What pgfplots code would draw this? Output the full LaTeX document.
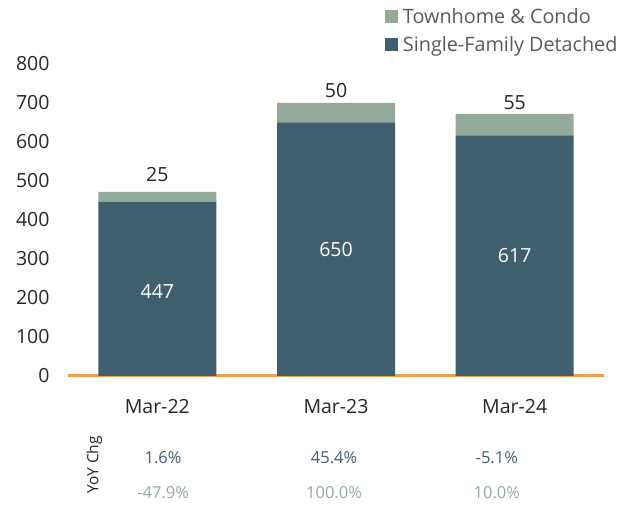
\documentclass[border=0pt]{standalone}
\usepackage{fontspec}
\setmainfont{Open Sans}
\usepackage{pgfplots}
\pgfplotsset{compat=1.18}
\definecolor{sfd}{HTML}{405F6E}
\definecolor{thc}{HTML}{93AA9B}
\definecolor{orng}{HTML}{F0A04B}
\definecolor{txt}{HTML}{262626}
\definecolor{legtxt}{HTML}{595959}
\begin{document}
\begin{tikzpicture}
\useasboundingbox (0,0) rectangle (619pt,510pt);
\begin{axis}[
  at={(68pt,134pt)}, anchor=south west,
  scale only axis, width=536pt, height=312pt,
  ybar stacked, bar width=118pt,
  xmin=-0.5, xmax=2.5, ymin=0, ymax=800,
  xtick={0,1,2}, xticklabels={Mar-22,Mar-23,Mar-24},
  ytick={0,100,...,800},
  axis x line*=bottom, axis y line*=left,
  x axis line style={orng, line width=3pt, -},
  y axis line style={draw=none},
  major tick length=0pt,
  tick label style={font=\fontsize{19.5}{22}\selectfont, text=txt},
  yticklabel style={xshift=-15pt},
  xticklabel style={yshift=-20pt},
  /pgf/number format/assume math mode=true,
  clip=false,
  reverse legend,
  legend style={at={(axis description cs:0.591,1.186)}, anchor=north west,
    draw=none, fill=none, inner xsep=0pt, inner ysep=0pt,
    font=\fontsize{19.8}{22}\selectfont, text=legtxt, row sep=8pt},
  legend cell align=left,
  legend image code/.code={\fill[#1] (0pt,-6.5pt) rectangle (13pt,6.5pt); \path (16pt,0pt);},
  after end axis/.append code={
    \node[white, font=\fontsize{19.5}{22}\selectfont] at ([yshift=-3pt]axis cs:0,223.5) {447};
    \node[white, font=\fontsize{19.5}{22}\selectfont] at (axis cs:1,325) {650};
    \node[white, font=\fontsize{19.5}{22}\selectfont] at (axis cs:2,308.5) {617};
  },
]
\addplot[fill=sfd, draw=none] coordinates {(0,447) (1,650) (2,617)};
\addlegendentry{Single-Family Detached}
\addplot[fill=thc, draw=none, point meta=explicit, nodes near coords,
  nodes near coords style={font=\fontsize{19.5}{22}\selectfont, text=txt, anchor=center, yshift=22pt}]
  coordinates {(0,25) [25] (1,50) [50] (2,55) [55]};
\addlegendentry{Townhome \& Condo}

\node[rotate=90, text=txt, font=\fontsize{15.5}{18}\selectfont] at ([yshift=-89pt]axis cs:-0.352,0) {YoY Chg};
\node[text=sfd, font=\fontsize{16.5}{19}\selectfont] at ([yshift=-82pt]axis cs:0.032,0) {1.6\%};
\node[text=sfd, font=\fontsize{16.5}{19}\selectfont] at ([yshift=-82pt]axis cs:0.989,0) {45.4\%};
\node[text=sfd, font=\fontsize{16.5}{19}\selectfont] at ([yshift=-82pt]axis cs:1.90,0) {-5.1\%};
\node[text=thc, font=\fontsize{16.5}{19}\selectfont] at ([yshift=-117pt]axis cs:0.032,0) {-47.9\%};
\node[text=thc, font=\fontsize{16.5}{19}\selectfont] at ([yshift=-117pt]axis cs:0.989,0) {100.0\%};
\node[text=thc, font=\fontsize{16.5}{19}\selectfont] at ([yshift=-117pt]axis cs:1.90,0) {10.0\%};
\end{axis}
\end{tikzpicture}
\end{document}
